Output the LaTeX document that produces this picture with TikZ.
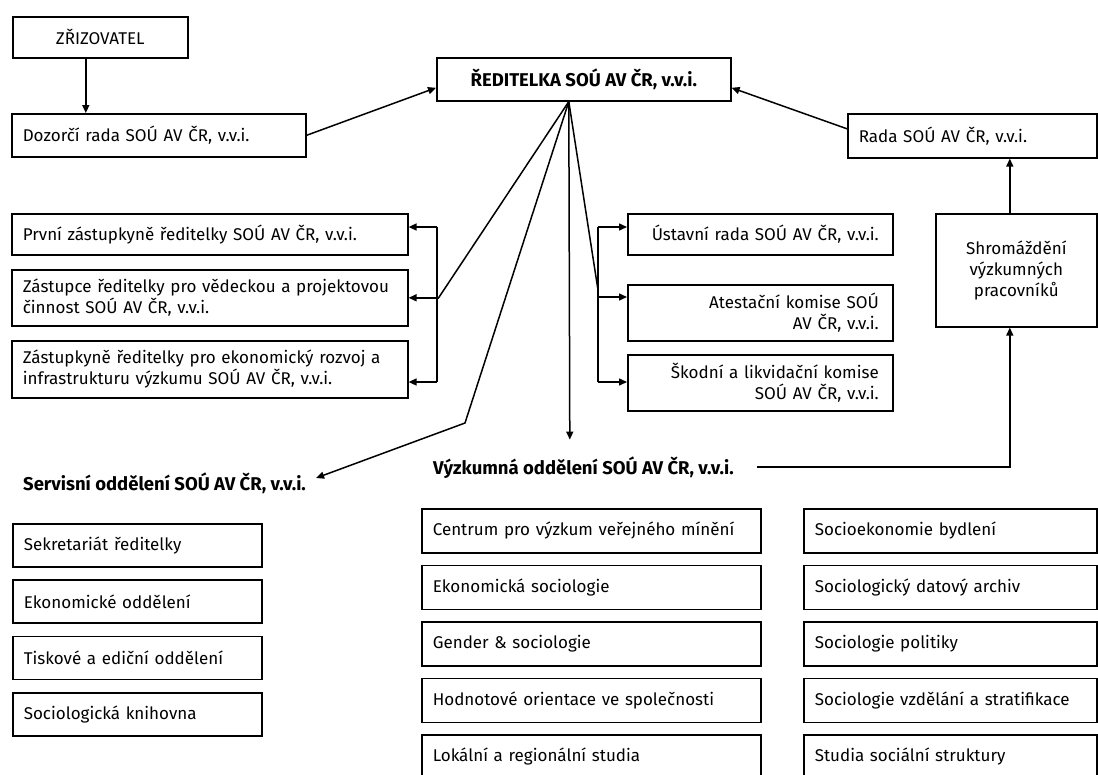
\documentclass[tikz,border=0pt]{standalone}
\usepackage{fontspec}
\setmainfont{Fira Sans}
\usetikzlibrary{arrows.meta}
\newcommand{\boxfont}{\fontsize{17}{21}\selectfont}
\newcommand{\headfont}{\fontsize{18.5}{21}\selectfont\bfseries}

\tikzset{
  box/.style={draw, line width=1.6pt, anchor=north west, inner xsep=11pt, inner ysep=0pt, align=left, font=\boxfont},
  rbox/.style={box, inner xsep=14pt, align=right},
  cbox/.style={draw, line width=1.6pt, anchor=north west, inner sep=0pt, align=center, font=\boxfont},
  head/.style={anchor=west, inner sep=0pt, font=\headfont},
  conn/.style={line width=1.5pt},
  arr/.style={conn, -{Triangle[length=8pt,width=7pt]}}
}

\begin{document}
\begin{tikzpicture}[x=1pt, y=-1pt]
  \path[use as bounding box, clip] (0,0) rectangle (1098,774);
  % top row
  \node[cbox, minimum width=175pt, minimum height=41pt] (zriz) at (12,16) {ZŘIZOVATEL};
  \node[box, text width=272pt, minimum height=43pt] (dozorci) at (11,113) {Dozorčí rada SOÚ AV ČR, v.v.i.};
  \node[cbox, minimum width=294pt, minimum height=43pt, font=\headfont] (reditelka) at (436,57) {ŘEDITELKA SOÚ AV ČR, v.v.i.};
  \node[box, text width=227pt, minimum height=44pt] (rada) at (847,113) {Rada SOÚ AV ČR, v.v.i.};
  \node[cbox, minimum width=161pt, minimum height=113pt] (shrom) at (935,213) {Shromáždění\\výzkumných\\pracovníků};
  % deputies
  \node[box, text width=374pt, minimum height=41pt] (prvni) at (11,213) {První zástupkyně ředitelky SOÚ AV ČR, v.v.i.};
  \node[box, text width=374pt, minimum height=56pt] (zastupce) at (11,269) {Zástupce ředitelky pro vědeckou a projektovou\\činnost SOÚ AV ČR, v.v.i.};
  \node[box, text width=374pt, minimum height=57pt] (zastupkyne) at (11,340) {Zástupkyně ředitelky pro ekonomický rozvoj a\\infrastrukturu výzkumu SOÚ AV ČR, v.v.i.};
  % councils
  \node[rbox, text width=237pt, minimum height=41pt] (ustavni) at (627,213) {Ústavní rada SOÚ AV ČR, v.v.i.};
  \node[rbox, text width=237pt, minimum height=56pt] (atestacni) at (627,284) {Atestační komise SOÚ\\AV ČR, v.v.i.};
  \node[rbox, text width=237pt, minimum height=56pt] (skodni) at (627,354) {Škodní a likvidační komise\\SOÚ AV ČR, v.v.i.};
  % departments
  \node[head] (servisni) at (23,483) {Servisní oddělení SOÚ AV ČR, v.v.i.};
  \node[head] (vyzkumna) at (433,468) {Výzkumná oddělení SOÚ AV ČR, v.v.i.};
  \foreach \name/\txt [count=\i from 0] in {sekr/Sekretariát ředitelky, ekon/Ekonomické oddělení, tisk/Tiskové a ediční oddělení, knih/Sociologická knihovna}
    \node[box, text width=227pt, minimum height=43pt] (\name) at (12,523+56.4*\i) {\txt};
  \foreach \name/\txt [count=\i from 0] in {cvvm/Centrum pro výzkum veřejného mínění, ekso/Ekonomická sociologie, gend/Gender \& sociologie, hodn/Hodnotové orientace ve společnosti, loka/Lokální a regionální studia}
    \node[box, text width=317pt, minimum height=44pt] (\name) at (421,508+56.5*\i) {\txt};
  \foreach \name/\txt [count=\i from 0] in {bydl/Socioekonomie bydlení, arch/Sociologický datový archiv, poli/Sociologie politiky, vzde/Sociologie vzdělání a stratifikace, stru/Studia sociální struktury}
    \node[box, text width=271pt, minimum height=44pt] (\name) at (803,508+56.5*\i) {\txt};

  % connectors
  \coordinate (fan) at ([xshift=-15pt]reditelka.south);
  \draw[arr] ([xshift=-14.5pt]zriz.south) -- ([xshift=-14.5pt]zriz.south |- dozorci.north);
  \draw[arr] (dozorci.east) -- ([yshift=-8.5pt]reditelka.west);
  \draw[arr] ([yshift=7pt]rada.west) -- ([yshift=-8.5pt]reditelka.east);
  \draw[arr] ([xshift=-6.5pt]shrom.north) -- ([xshift=-6.5pt]shrom.north |- rada.south);
  % left bracket
  \coordinate (lbr) at ([xshift=30pt]zastupce.east);
  \coordinate (ltop) at (437,227);
  \coordinate (lbot) at (437,382);
  \draw[conn] (fan) -- (lbr);
  \draw[conn] (ltop) -- (lbot);
  \draw[arr] (ltop) -- (ltop -| prvni.east);
  \draw[arr] (lbr) -- (zastupce.east);
  \draw[arr] (lbot) -- (lbot -| zastupkyne.east);
  % right bracket
  \coordinate (rbr) at (598,290);
  \coordinate (rtop) at (598,227);
  \coordinate (rmid) at (598,297);
  \coordinate (rbot) at (598,382);
  \draw[conn] (fan) -- (rbr);
  \draw[conn] (rtop) -- (rbot);
  \draw[arr] (rtop) -- (rtop -| ustavni.west);
  \draw[arr] (rmid) -- (rmid -| atestacni.west);
  \draw[arr] (rbot) -- (rbot -| skodni.west);
  % down to the departments
  \coordinate (sbend) at (465,423);
  \draw[arr] (fan) -- (sbend) -- ([xshift=10pt, yshift=5pt]servisni.east);
  \draw[arr] (fan) -- ++(1,338);
  \draw[arr] ([xshift=23pt, yshift=1pt]vyzkumna.east) -| ([xshift=-6.5pt]shrom.south);
\end{tikzpicture}
\end{document}
